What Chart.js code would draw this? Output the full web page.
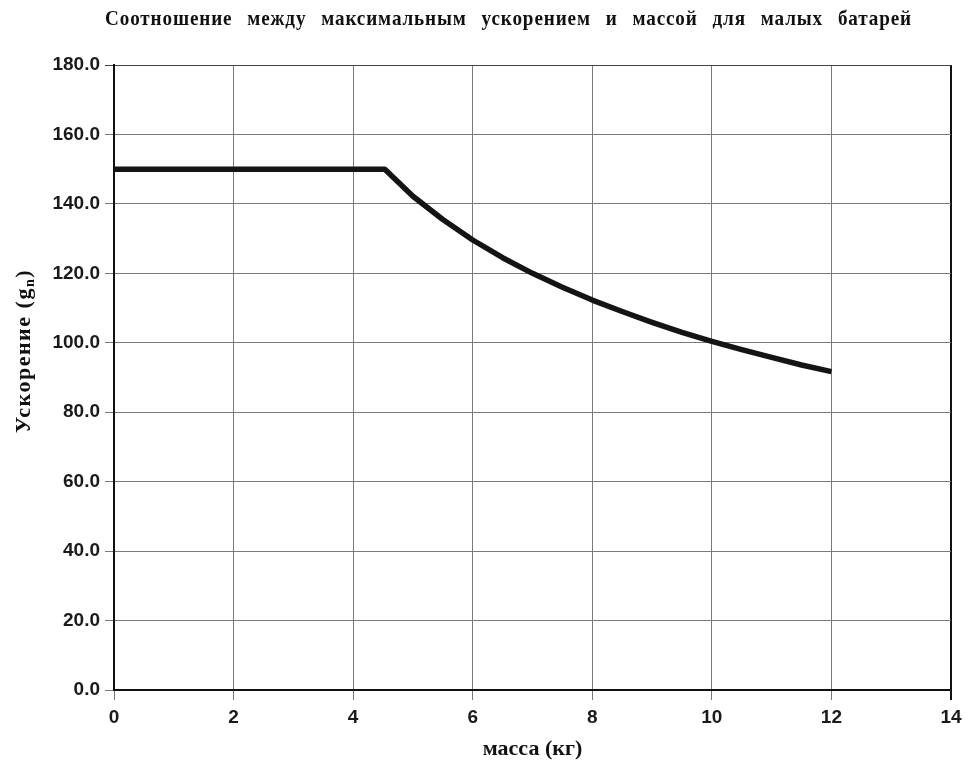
<!DOCTYPE html>
<html>
<head>
<meta charset="utf-8">
<script src="https://cdn.jsdelivr.net/npm/chart.js@4.4.1/dist/chart.umd.min.js"></script>
<style>
  html, body { margin: 0; padding: 0; background: #ffffff; }
  #wrap { width: 969px; height: 764px; position: relative; }
</style>
</head>
<body>
<div id="wrap"><canvas id="c" width="969" height="764"></canvas></div>
<script>
// ---- data ----
const chartTitle = 'Соотношение между максимальным ускорением и массой для малых батарей';
const xAxisTitle = 'масса (кг)';
const yAxisTitleMain = 'Ускорение (g';
const yAxisTitleSub = 'n';
const yAxisTitleEnd = ')';
const masses = [0, 4.53, 5, 5.5, 6, 6.5, 7, 7.5, 8, 8.5, 9, 9.5, 10, 10.5, 11, 11.5, 12];
const accel  = [150, 150, 142.2, 135.5, 129.6, 124.5, 120, 116, 112.3, 109, 105.9, 103, 100.4, 98, 95.8, 93.6, 91.7];
const xTicks = [0, 2, 4, 6, 8, 10, 12, 14];
const yTicks = [0, 20, 40, 60, 80, 100, 120, 140, 160, 180];

const points = masses.map((m, i) => ({ x: m, y: accel[i] }));

const serif = '"Liberation Serif", "Times New Roman", serif';
const sans = '"Liberation Sans", Arial, sans-serif';

const bgPlugin = {
  id: 'bg',
  beforeDraw(chart) {
    const ctx = chart.ctx;
    ctx.save();
    ctx.fillStyle = '#ffffff';
    ctx.fillRect(0, 0, chart.width, chart.height);
    ctx.restore();
  }
};

const textPlugin = {
  id: 'texts',
  afterDraw(chart) {
    const ctx = chart.ctx;
    ctx.save();
    // chart title: slightly condensed, letter-spaced bold serif, spread between x=105 and x=911
    const squeeze = 0.87;
    ctx.fillStyle = '#111111';
    ctx.font = 'bold 22px ' + serif;
    ctx.textAlign = 'left';
    ctx.textBaseline = 'alphabetic';
    if ('letterSpacing' in ctx) ctx.letterSpacing = '1px';
    const words = chartTitle.split(' ');
    const wordW = words.map(w => ctx.measureText(w).width * squeeze);
    const sumW = wordW.reduce((a, b) => a + b, 0);
    const gap = (912 - 105 - sumW) / (words.length - 1);
    let tx = 105;
    words.forEach((w, i) => {
      ctx.save();
      ctx.translate(tx, 25);
      ctx.scale(squeeze, 1);
      ctx.fillText(w, 0, 0);
      ctx.restore();
      tx += wordW[i] + gap;
    });
    if ('letterSpacing' in ctx) ctx.letterSpacing = '0px';
    ctx.restore();

    // y axis title with subscript
    ctx.save();
    ctx.fillStyle = '#111111';
    ctx.translate(30, 351);
    ctx.rotate(-Math.PI / 2);
    if ('letterSpacing' in ctx) ctx.letterSpacing = '1.5px';
    const mainFont = 'bold 22px ' + serif;
    const subFont = 'bold 14px ' + serif;
    ctx.font = mainFont;
    const w1 = ctx.measureText(yAxisTitleMain).width;
    const w3 = ctx.measureText(yAxisTitleEnd).width;
    ctx.font = subFont;
    const w2 = ctx.measureText(yAxisTitleSub).width;
    const total = w1 + w2 + w3;
    let x = -total / 2;
    ctx.textAlign = 'left';
    ctx.textBaseline = 'alphabetic';
    ctx.font = mainFont;
    ctx.fillText(yAxisTitleMain, x, 0);
    x += w1;
    ctx.font = subFont;
    ctx.fillText(yAxisTitleSub, x, 4);
    x += w2;
    ctx.font = mainFont;
    ctx.fillText(yAxisTitleEnd, x, 0);
    if ('letterSpacing' in ctx) ctx.letterSpacing = '0px';
    ctx.restore();
  }
};

new Chart(document.getElementById('c'), {
  type: 'scatter',
  data: {
    datasets: [{
      data: points,
      showLine: true,
      borderColor: '#141414',
      borderWidth: 5.5,
      borderCapStyle: 'butt',
      borderJoinStyle: 'round',
      pointRadius: 0,
      pointHoverRadius: 0,
      tension: 0,
      fill: false
    }]
  },
  options: {
    responsive: false,
    animation: false,
    events: [],
    layout: { padding: { top: 65, right: 18, bottom: 0, left: 0 } },
    plugins: {
      legend: { display: false },
      tooltip: { enabled: false },
      title: { display: false }
    },
    scales: {
      x: {
        type: 'linear',
        min: 0,
        max: 14,
        afterBuildTicks(scale) { scale.ticks = xTicks.map(v => ({ value: v })); },
        afterFit(scale) { scale.height = 74; },
        ticks: {
          color: '#1a1a1a',
          font: { family: sans, size: 19, weight: 'bold' },
          padding: 6,
          maxRotation: 0,
          autoSkip: false,
          callback: v => String(v)
        },
        grid: {
          color: ctx => (ctx.tick && ctx.tick.value === 14) ? '#111111' : '#7a7a7a',
          lineWidth: ctx => (ctx.tick && ctx.tick.value === 14) ? 2 : 1,
          tickLength: 10,
          drawTicks: true
        },
        border: { display: true, color: '#111111', width: 2 },
        title: {
          display: true,
          text: xAxisTitle,
          color: '#111111',
          font: { family: serif, size: 22, weight: 'bold' },
          padding: { top: 0, bottom: 1 }
        }
      },
      y: {
        type: 'linear',
        min: 0,
        max: 180,
        afterBuildTicks(scale) { scale.ticks = yTicks.map(v => ({ value: v })); },
        afterFit(scale) { scale.width = 114; },
        ticks: {
          color: '#1a1a1a',
          font: { family: sans, size: 19, weight: 'bold' },
          padding: 5,
          autoSkip: false,
          callback: v => Number(v).toFixed(1)
        },
        grid: {
          color: ctx => (ctx.tick && ctx.tick.value === 180) ? '#444444' : '#7a7a7a',
          lineWidth: 1,
          tickLength: 9,
          drawTicks: true
        },
        border: { display: true, color: '#111111', width: 2 }
      }
    }
  },
  plugins: [bgPlugin, textPlugin]
});
</script>
</body>
</html>
